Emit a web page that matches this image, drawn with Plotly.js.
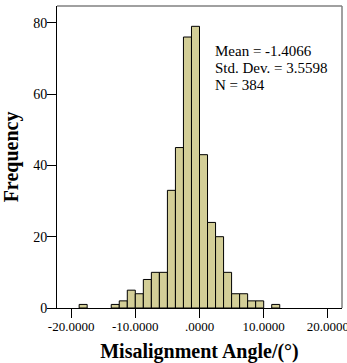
<!DOCTYPE html>
<html>
<head>
<meta charset="utf-8">
<script src="https://cdn.plot.ly/plotly-3.0.1.min.js"></script>
<style>html,body{margin:0;padding:0;background:#fff;}#chart{width:347px;height:363px;}</style>
</head>
<body>
<div id="chart"></div>
<script>
// Histogram bins (start of each bin) and frequencies
var binStarts = [-18.75, -17.5, -16.25, -15, -13.75, -12.5, -11.25, -10, -8.75, -7.5, -6.25, -5, -3.75, -2.5, -1.25, 0, 1.25, 2.5, 3.75, 5, 6.25, 7.5, 8.75, 10, 11.25];
var counts    = [1, 0, 0, 0, 1, 2, 5, 4, 8, 10, 10, 33, 45, 76, 79, 43, 24, 20, 10, 4, 4, 2, 2, 0, 1];
var binWidth = 1.25;
var xTickVals = [-20, -10, 0, 10, 20];
var xTickText = ["-20.0000", "-10.0000", ".0000", "10.0000", "20.0000"];
var yTickVals = [0, 20, 40, 60, 80];
var statsLines = ["Mean = -1.4066", "Std. Dev. = 3.5598", "N = 384"];

var xs = [], ys = [];
for (var i = 0; i < counts.length; i++) {
  if (counts[i] > 0) { xs.push(binStarts[i] + binWidth / 2); ys.push(counts[i]); }
}

var font = "Liberation Serif, Times New Roman, serif";
var trace = {
  type: "bar", x: xs, y: ys, width: binWidth,
  marker: {color: "#D3CE97", line: {color: "#000000", width: 1}},
  hoverinfo: "skip"
};

var anns = statsLines.map(function (t, k) {
  return {x: 2.3, y: 72.0 - k * 4.7, xref: "x", yref: "y", text: t, showarrow: false,
    xanchor: "left", yanchor: "middle", borderpad: 0, font: {family: font, size: 15, color: "#000"}};
});

var layout = {
  width: 347, height: 363,
  margin: {l: 57, r: 5, t: 6, b: 55},
  paper_bgcolor: "#fff", plot_bgcolor: "#fff",
  showlegend: false, bargap: 0,
  xaxis: {range: [-22.2, 22.2], tickvals: xTickVals, ticktext: xTickText, ticks: "outside", ticklen: 9,
    tickcolor: "#000", showline: true, linecolor: "#000", linewidth: 1, showgrid: false, zeroline: false,
    ticklabeloverflow: "allow", ticklabelstandoff: -3,
    tickfont: {family: font, size: 13, color: "#000"},
    title: {text: "Misalignment Angle/(°)", font: {family: font, size: 20, color: "#000", weight: "bold"}, standoff: 12}},
  yaxis: {range: [0, 84.7], tickvals: yTickVals, ticks: "outside", ticklen: 9,
    tickcolor: "#000", showline: true, linecolor: "#000", linewidth: 1, showgrid: false, zeroline: false,
    ticklabelstandoff: -3,
    tickfont: {family: font, size: 14, color: "#000"},
    title: {text: "Frequency", font: {family: font, size: 20, color: "#000", weight: "bold"}, standoff: 10}},
  shapes: [
    {type: "line", xref: "paper", yref: "paper", x0: 0, x1: 1, y0: 1, y1: 1, line: {color: "#808080", width: 1.5}, layer: "above"},
    {type: "line", xref: "paper", yref: "paper", x0: 1, x1: 1, y0: 0, y1: 1, line: {color: "#808080", width: 1.5}, layer: "above"}
  ],
  annotations: anns
};

Plotly.newPlot("chart", [trace], layout, {displayModeBar: false, staticPlot: true});
</script>
</body>
</html>
